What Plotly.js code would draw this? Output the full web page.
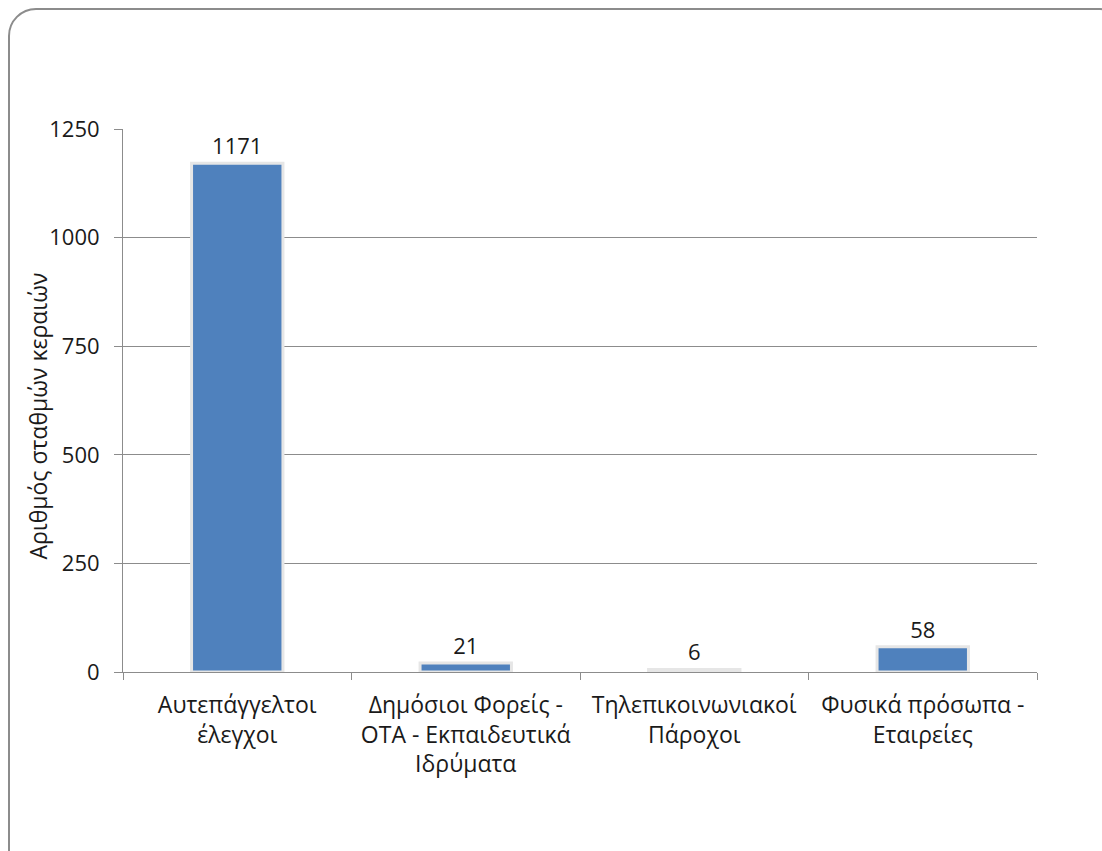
<!DOCTYPE html>
<html>
<head>
<meta charset="utf-8">
<script src="https://cdn.plot.ly/plotly-3.0.1.min.js"></script>
<style>
html, body { margin:0; padding:0; background:#fff; overflow:hidden; }
#frame { position:absolute; left:8px; top:8px; width:1120px; height:880px; border:2px solid #8c8c8c; border-radius:28px; box-sizing:border-box; }
#chart { position:absolute; left:0; top:0; width:1102px; height:851px; }
</style>
</head>
<body>
<div id="frame"></div>
<div id="chart"></div>
<script>
const categories = [
  "Αυτεπάγγελτοι<br>έλεγχοι",
  "Δημόσιοι Φορείς -<br>ΟΤΑ - Εκπαιδευτικά<br>Ιδρύματα",
  "Τηλεπικοινωνιακοί<br>Πάροχοι",
  "Φυσικά πρόσωπα -<br>Εταιρείες"
];
const values = [1171, 21, 6, 58];
const yTicks = [0, 250, 500, 750, 1000, 1250];
const yTitle = "Αριθμός σταθμών κεραιών";

const font = "Open Sans, Noto Sans, sans-serif";

const trace = {
  type: "bar",
  x: categories,
  y: values,
  width: 0.4,
  marker: { color: "#4F81BD", line: { color: "#e6e6e6", width: 3 } },
  text: values.map(String),
  textposition: "outside",
  cliponaxis: false,
  textfont: { family: font, size: 22, color: "#1a1a1a" },
  hoverinfo: "x+y"
};

const layout = {
  width: 1102,
  height: 851,
  margin: { l: 123, r: 65, t: 129, b: 179 },
  paper_bgcolor: "rgba(0,0,0,0)",
  plot_bgcolor: "rgba(0,0,0,0)",
  showlegend: false,
  bargap: 0.6,
  xaxis: {
    type: "category",
    tickson: "boundaries",
    ticks: "outside",
    ticklen: 7,
    tickcolor: "#8c8c8c",
    showline: true,
    linecolor: "#8c8c8c",
    linewidth: 1,
    ticklabelstandoff: 12,
    tickfont: { family: font, size: 23, color: "#1a1a1a" },
    automargin: false
  },
  yaxis: {
    range: [0, 1250],
    tickvals: yTicks,
    ticktext: yTicks.map(String),
    ticks: "outside",
    ticklen: 8,
    tickcolor: "#8c8c8c",
    showline: true,
    linecolor: "#8c8c8c",
    linewidth: 1,
    showgrid: true,
    gridcolor: "#8c8c8c",
    gridwidth: 1,
    zeroline: false,
    ticklabelstandoff: 10,
    tickfont: { family: font, size: 22, color: "#1a1a1a" },
    automargin: false
  },
  annotations: [{
    text: yTitle,
    xref: "paper", yref: "paper",
    x: 0, y: 0.5,
    xanchor: "center", yanchor: "middle",
    xshift: -86, yshift: -16,
    textangle: -90,
    showarrow: false,
    font: { family: font, size: 23, color: "#1a1a1a" }
  }]
};

Plotly.newPlot("chart", [trace], layout, { displayModeBar: false, staticPlot: true });
</script>
</body>
</html>
